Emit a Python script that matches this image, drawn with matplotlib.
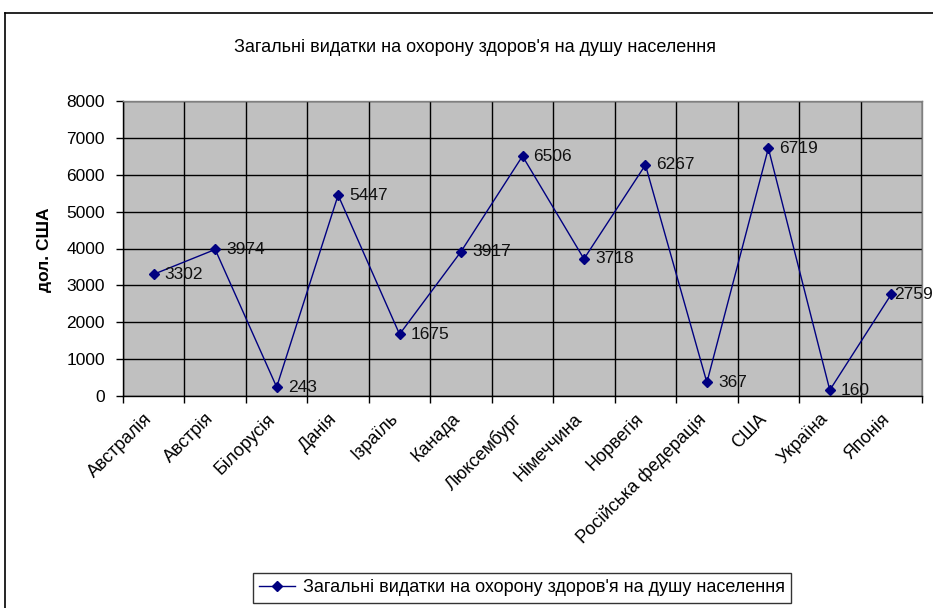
import matplotlib
matplotlib.use("Agg")
import matplotlib.pyplot as plt
from matplotlib.lines import Line2D
from matplotlib.transforms import ScaledTranslation
import numpy as np

plt.rcParams['font.family'] = ['Liberation Sans', 'DejaVu Sans']

countries = ["Австралія", "Австрія", "Білорусія", "Данія", "Ізраїль", "Канада",
             "Люксембург", "Німеччина", "Норвегія", "Російська федерація",
             "США", "Україна", "Японія"]
values = [3302, 3974, 243, 5447, 1675, 3917, 6506, 3718, 6267, 367, 6719, 160, 2759]
series_name = "Загальні видатки на охорону здоров'я на душу населення"
title = "Загальні видатки на охорону здоров'я на душу населення"
ylabel = "дол. США"
yticks = [0, 1000, 2000, 3000, 4000, 5000, 6000, 7000, 8000]

W, H = 933, 608
fig = plt.figure(figsize=(W / 100, H / 100), dpi=100)
fig.patch.set_facecolor('white')

# outer chart frame (partially cut off)
fig.add_artist(Line2D([5 / W, 1], [1 - 13 / H, 1 - 13 / H], color='black', lw=1.2))
fig.add_artist(Line2D([5 / W, 5 / W], [1 - 13 / H, 0], color='black', lw=1.2))

ax = fig.add_axes([123 / W, 1 - 396 / H, (922 - 123) / W, (396 - 101) / H])
ax.set_facecolor('#C0C0C0')

n = len(countries)
x = np.arange(n)
ax.plot(x, values, color='#000080', lw=1.0, marker='D', markersize=5,
        markerfacecolor='#000080', markeredgecolor='#000080', zorder=3)

for i, (xi, v) in enumerate(zip(x, values)):
    off = 2 if i == n - 1 else 8
    ax.annotate(f"{v}", (xi, v), xytext=(off, 0), textcoords='offset points',
                ha='left', va='center', fontsize=12.5, color='#111111', zorder=4,
                annotation_clip=False)

ax.set_xlim(-0.5, n - 0.5)
ax.set_ylim(0, 8000)
ax.set_yticks(yticks)
ax.set_yticklabels([str(t) for t in yticks], fontsize=12.5)

# category boundaries as major ticks/grid, labels at centers
ax.set_xticks(np.arange(-0.5, n, 1.0))
ax.set_xticklabels([])
ax.set_xticks(x, minor=True)
ax.set_xticklabels(countries, minor=True, rotation=45, ha='right',
                   rotation_mode='anchor', va='top', fontsize=13)
ax.tick_params(axis='x', which='minor', length=0, pad=6)
ax.tick_params(axis='x', which='major', length=5, width=1, color='black', direction='out')
ax.tick_params(axis='y', length=5, width=1, color='black', direction='out', pad=8)

shift = ScaledTranslation(-10 / 100, -6 / 100, fig.dpi_scale_trans)
for lbl in ax.get_xticklabels(minor=True):
    lbl.set_transform(lbl.get_transform() + shift)

ax.grid(True, which='major', color='black', lw=1.0)
ax.set_axisbelow(True)

for s in ['top', 'right']:
    ax.spines[s].set_color('#808080')
    ax.spines[s].set_linewidth(1.0)
for s in ['left', 'bottom']:
    ax.spines[s].set_color('black')
    ax.spines[s].set_linewidth(1.0)

fig.text(45 / W, 1 - 250 / H, ylabel, rotation=90, ha='center', va='center',
         fontsize=12.5, fontweight='bold')
fig.text(475 / W, 1 - 47 / H, title, ha='center', va='center', fontsize=13)

handle = Line2D([], [], color='#000080', lw=1.0, marker='D', markersize=5,
                markerfacecolor='#000080', markeredgecolor='#000080')
leg = fig.legend([handle], [series_name], loc='center', bbox_to_anchor=(522 / W, 1 - 588 / H),
                 fontsize=13, frameon=True, fancybox=False, edgecolor='black',
                 borderpad=0.35, handlelength=2.0, handletextpad=0.4)
leg.get_frame().set_linewidth(1.0)

fig.savefig('out.png', dpi=100)
